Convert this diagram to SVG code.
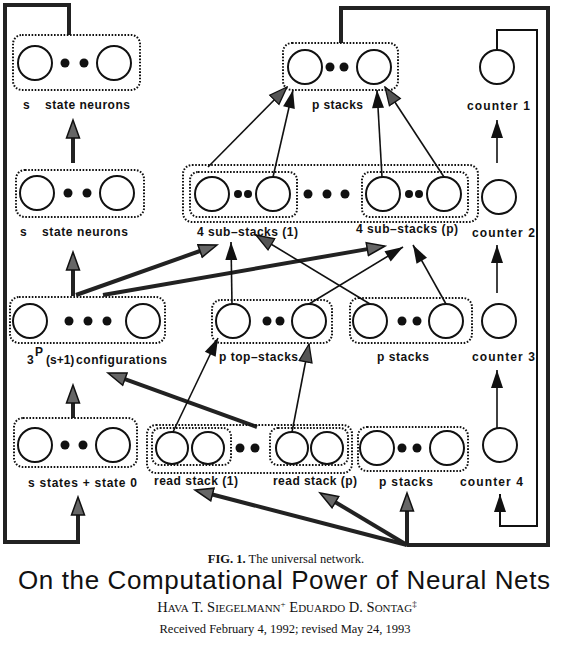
<svg xmlns="http://www.w3.org/2000/svg" width="568" height="645" viewBox="0 0 568 645">
<defs>
<style>
.box{fill:none;stroke:#111;stroke-width:2;stroke-dasharray:1.6 1.6}
.n{fill:#fff;stroke:#111;stroke-width:2}
.dot{fill:#111}
.lbl{font-family:"Liberation Sans",Arial,sans-serif;font-weight:bold;font-size:12px;fill:#111}
.thick{fill:none;stroke:#222;stroke-width:4}
.thin{fill:none;stroke:#111;stroke-width:1.6}
.frame{fill:none;stroke:#222;stroke-width:4}
.loop{fill:none;stroke:#111;stroke-width:2}
.cap{font-family:"Liberation Serif","Times New Roman",serif;fill:#111}
</style>
<marker id="hb" viewBox="-1 -8 21 16" refX="0" refY="0" markerWidth="21" markerHeight="16" markerUnits="userSpaceOnUse" orient="auto">
<path d="M0,-6.5 L18,0 L0,6.5 Z" fill="#666" stroke="#111" stroke-width="1.5"/>
</marker>
<marker id="ta" viewBox="-19 -8 20 16" refX="0" refY="0" markerWidth="20" markerHeight="16" markerUnits="userSpaceOnUse" orient="auto">
<path d="M0,0 L-18,-6 L-18,6 Z" fill="#111"/>
</marker>
<marker id="th" viewBox="-19 -8 20 16" refX="0" refY="0" markerWidth="20" markerHeight="16" markerUnits="userSpaceOnUse" orient="auto">
<path d="M0,0 L-18,-6.5 L-18,6.5 Z" fill="#555" stroke="#111" stroke-width="1.3"/>
</marker>
</defs>
<rect width="568" height="645" fill="#fff"/>

<g id="connectors">
<path class="frame" d="M69,35 V5 H5 V542 H78 V515" marker-end="url(#hb)"/>
<path class="frame" d="M341,43 V8 H548 V545 H407"/>
<path class="loop" d="M497,50 V30 H537 V526 H500 V494" marker-end="url(#ta)"/>
<line class="thick" x1="73" y1="163" x2="73" y2="138" marker-end="url(#hb)"/>
<line class="thick" x1="73" y1="296" x2="73" y2="270" marker-end="url(#hb)"/>
<line class="thick" x1="73" y1="418" x2="73" y2="403" marker-end="url(#hb)"/>
<line class="thick" x1="76" y1="295" x2="200" y2="251" marker-end="url(#hb)"/>
<line class="thick" x1="103" y1="295" x2="367.3" y2="249.1" marker-end="url(#hb)"/>
<line class="thick" x1="257" y1="427" x2="124.9" y2="379.1" marker-end="url(#hb)"/>
<line class="thick" x1="407" y1="545" x2="407" y2="511" marker-end="url(#hb)"/>
<line class="thick" x1="407" y1="545" x2="335.4" y2="502.2" marker-end="url(#hb)"/>
<line class="thick" x1="407" y1="545" x2="212.4" y2="494.5" marker-end="url(#hb)"/>
<line class="thin" x1="208" y1="167" x2="287" y2="87" marker-end="url(#th)"/>
<line class="thin" x1="273" y1="177" x2="293" y2="90" marker-end="url(#ta)"/>
<line class="thin" x1="382" y1="177" x2="377" y2="90" marker-end="url(#ta)"/>
<line class="thin" x1="444" y1="177" x2="385" y2="87" marker-end="url(#th)"/>
<line class="thin" x1="232" y1="304" x2="231" y2="242" marker-end="url(#ta)"/>
<line class="thin" x1="309" y1="304" x2="403" y2="247" marker-end="url(#ta)"/>
<line class="thin" x1="370" y1="304" x2="256" y2="235" marker-end="url(#th)"/>
<line class="thin" x1="446" y1="304" x2="413" y2="245" marker-end="url(#ta)"/>
<line class="thin" x1="173" y1="432" x2="218" y2="338" marker-end="url(#ta)"/>
<line class="thin" x1="292" y1="432" x2="309" y2="344" marker-end="url(#th)"/>
<line class="thin" x1="497" y1="163" x2="497" y2="120" marker-end="url(#ta)"/>
<line class="thin" x1="497" y1="293" x2="497" y2="245" marker-end="url(#ta)"/>
<line class="thin" x1="497" y1="428" x2="497" y2="370" marker-end="url(#ta)"/>
</g>

<g id="state-neurons-top">
<rect class="box" x="13" y="35" width="127" height="55" rx="9"/>
<circle class="n" cx="35" cy="63" r="17"/><circle class="n" cx="114" cy="63" r="17"/>
<circle class="dot" cx="65" cy="63" r="4.5"/><circle class="dot" cx="84" cy="63" r="4.5"/>
<text class="lbl" x="23" y="109">s</text><text class="lbl" x="45" y="109" textLength="85" lengthAdjust="spacing">state neurons</text>
</g>

<g id="state-neurons">
<rect class="box" x="16" y="170" width="128" height="47" rx="9"/>
<circle class="n" cx="37" cy="193" r="17"/><circle class="n" cx="117" cy="193" r="17"/>
<circle class="dot" cx="68" cy="193" r="4.5"/><circle class="dot" cx="87" cy="193" r="4.5"/>
<text class="lbl" x="20" y="236">s</text><text class="lbl" x="42" y="236" textLength="86" lengthAdjust="spacing">state neurons</text>
</g>

<g id="configurations">
<rect class="box" x="10" y="297" width="155" height="46" rx="9"/>
<circle class="n" cx="30" cy="321" r="17"/><circle class="n" cx="143" cy="321" r="17"/>
<circle class="dot" cx="69" cy="321" r="4.5"/><circle class="dot" cx="88" cy="321" r="4.5"/><circle class="dot" cx="107" cy="321" r="4.5"/>
<text class="lbl" x="27" y="364" font-size="11">3</text>
<text class="lbl" x="35" y="356" font-size="9">P</text>
<text class="lbl" x="46" y="364" font-size="9.5">(s+1)</text>
<text class="lbl" x="76" y="364" textLength="91" lengthAdjust="spacing">configurations</text>
</g>

<g id="states-plus-0">
<rect class="box" x="14" y="418" width="123" height="49" rx="9"/>
<circle class="n" cx="35" cy="445" r="17"/><circle class="n" cx="113" cy="445" r="17"/>
<circle class="dot" cx="65" cy="445" r="4.5"/><circle class="dot" cx="83" cy="445" r="4.5"/>
<text class="lbl" x="28" y="487" textLength="109" lengthAdjust="spacing">s states + state 0</text>
</g>

<g id="p-stacks-top">
<rect class="box" x="283" y="43" width="115" height="47" rx="9"/>
<circle class="n" cx="305" cy="67" r="17"/><circle class="n" cx="374" cy="67" r="17"/>
<circle class="dot" cx="330" cy="67" r="4.5"/><circle class="dot" cx="344" cy="67" r="4.5"/>
<text class="lbl" x="312" y="109" textLength="51" lengthAdjust="spacing">p stacks</text>
</g>

<g id="sub-stacks">
<rect class="box" x="183" y="165" width="295" height="57" rx="9"/>
<rect class="box" x="190" y="172" width="107" height="45" rx="8"/>
<rect class="box" x="362" y="172" width="106" height="45" rx="8"/>
<circle class="n" cx="212" cy="194" r="17"/><circle class="n" cx="273" cy="194" r="17"/>
<circle class="dot" cx="238" cy="194" r="4"/><circle class="dot" cx="248" cy="194" r="4"/>
<circle class="dot" cx="308" cy="194" r="4.5"/><circle class="dot" cx="327" cy="194" r="4.5"/><circle class="dot" cx="345" cy="194" r="4.5"/>
<circle class="n" cx="383" cy="194" r="17"/><circle class="n" cx="444" cy="194" r="17"/>
<circle class="dot" cx="409" cy="194" r="4"/><circle class="dot" cx="419" cy="194" r="4"/>
<text class="lbl" x="197" y="236" textLength="101" lengthAdjust="spacing">4 sub–stacks (1)</text>
<text class="lbl" x="356" y="233" textLength="102" lengthAdjust="spacing">4 sub–stacks (p)</text>
</g>

<g id="top-stacks">
<rect class="box" x="212" y="300" width="120" height="43" rx="9"/>
<circle class="n" cx="233" cy="321" r="17"/><circle class="n" cx="309" cy="321" r="17"/>
<circle class="dot" cx="267" cy="321" r="4.5"/><circle class="dot" cx="280" cy="321" r="4.5"/>
<text class="lbl" x="219" y="361" textLength="79" lengthAdjust="spacing">p top–stacks</text>
</g>

<g id="p-stacks-mid">
<rect class="box" x="350" y="298" width="122" height="45" rx="9"/>
<circle class="n" cx="370" cy="321" r="17"/><circle class="n" cx="446" cy="321" r="17"/>
<circle class="dot" cx="402" cy="321" r="4.5"/><circle class="dot" cx="417" cy="321" r="4.5"/>
<text class="lbl" x="377" y="361" textLength="52" lengthAdjust="spacing">p stacks</text>
</g>

<g id="read-stacks">
<rect class="box" x="147" y="425" width="205" height="48" rx="9"/>
<rect class="box" x="152" y="428" width="79" height="37" rx="8"/>
<rect class="box" x="270" y="428" width="78" height="37" rx="8"/>
<circle class="n" cx="172" cy="448" r="16"/><circle class="n" cx="208" cy="448" r="16"/>
<circle class="dot" cx="240" cy="448" r="4.5"/><circle class="dot" cx="255" cy="448" r="4.5"/>
<circle class="n" cx="292" cy="448" r="16"/><circle class="n" cx="327" cy="448" r="16"/>
<text class="lbl" x="154" y="485" textLength="84" lengthAdjust="spacing">read stack (1)</text>
<text class="lbl" x="273" y="485" textLength="84" lengthAdjust="spacing">read stack (p)</text>
</g>

<g id="p-stacks-bottom">
<rect class="box" x="358" y="427" width="110" height="44" rx="9"/>
<circle class="n" cx="377" cy="448" r="17"/><circle class="n" cx="447" cy="448" r="17"/>
<circle class="dot" cx="402" cy="448" r="4.5"/><circle class="dot" cx="417" cy="448" r="4.5"/>
<text class="lbl" x="379" y="486" textLength="54" lengthAdjust="spacing">p stacks</text>
</g>

<g id="counter1">
<circle class="n" cx="497" cy="67" r="17"/>
<text class="lbl" x="467" y="110" textLength="63" lengthAdjust="spacing">counter  1</text>
</g>
<g id="counter2">
<circle class="n" cx="499" cy="197" r="17"/>
<text class="lbl" x="472" y="237" textLength="63" lengthAdjust="spacing">counter  2</text>
</g>
<g id="counter3">
<circle class="n" cx="499" cy="321" r="17"/>
<text class="lbl" x="472" y="361" textLength="63" lengthAdjust="spacing">counter  3</text>
</g>
<g id="counter4">
<circle class="n" cx="500" cy="445" r="17"/>
<text class="lbl" x="460" y="486" textLength="63" lengthAdjust="spacing">counter  4</text>
</g>

<g id="caption">
<text class="cap" x="286" y="563" font-size="12.5" text-anchor="middle"><tspan font-weight="bold">FIG. 1.</tspan>  The universal network.</text>
<text x="284" y="589" font-family="Liberation Sans,Arial,sans-serif" font-size="26" text-anchor="middle" fill="#111" textLength="532" lengthAdjust="spacing">On the Computational Power of Neural Nets</text>
<text class="cap" x="287" y="612" text-anchor="middle" font-size="14.5"><tspan>H</tspan><tspan font-size="11">AVA</tspan> T. S<tspan font-size="11">IEGELMANN</tspan><tspan font-size="9" dy="-5">+</tspan><tspan dy="5"> E</tspan><tspan font-size="11">DUARDO</tspan> D. S<tspan font-size="11">ONTAG</tspan><tspan font-size="9" dy="-5">‡</tspan></text>
<text class="cap" x="285" y="633" font-size="12.5" text-anchor="middle">Received February 4, 1992; revised May 24, 1993</text>
</g>
</svg>
